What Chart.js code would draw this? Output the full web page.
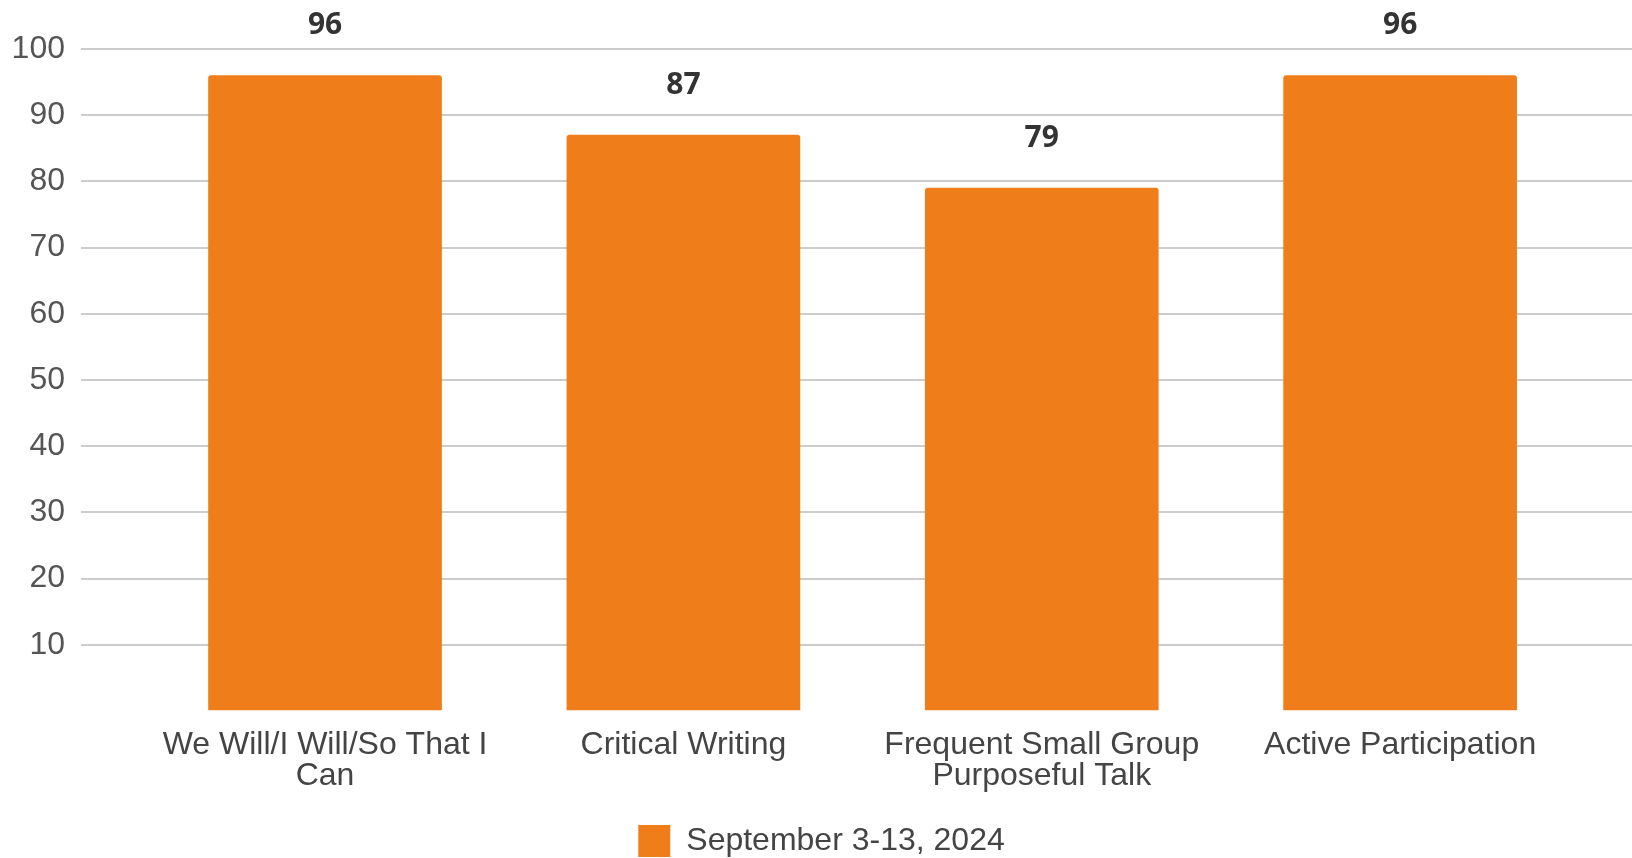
<!DOCTYPE html>
<html lang="en">
<head>
    <meta charset="UTF-8">
    <title>Walkthrough Results</title>
    <script src="https://cdn.jsdelivr.net/npm/chart.js"></script>
    <style>
        html, body {
            margin: 0;
            padding: 0;
            background: #fff;
            overflow: hidden;
        }
        .chart-container {
            width: 1632px;
            height: 858px;
        }
    </style>
</head>
<body>
<div class="chart-container">
    <canvas id="barChart"></canvas>
</div>

<script>
    // Chart data
    const categories = [
        ['We Will/I Will/So That I', 'Can'],
        'Critical Writing',
        ['Frequent Small Group', 'Purposeful Talk'],
        'Active Participation'
    ];
    const seriesName = 'September 3-13, 2024';
    const seriesValues = [96, 87, 79, 96];
    const yTicks = [0, 10, 20, 30, 40, 50, 60, 70, 80, 90, 100];

    const orange = '#ee7d1a';
    const fontFamily = 'Arial, "Liberation Sans", sans-serif';

    // value labels above each bar
    const valueLabels = {
        id: 'valueLabels',
        afterDatasetsDraw(chart) {
            const ctx = chart.ctx;
            const meta = chart.getDatasetMeta(0);
            ctx.save();
            ctx.font = 'bold 30px "Open Sans", sans-serif';
            ctx.fillStyle = '#333333';
            ctx.textAlign = 'center';
            ctx.textBaseline = 'middle';
            meta.data.forEach((bar, i) => {
                ctx.fillText(seriesValues[i], bar.x, bar.y - 50);
            });
            ctx.restore();
        }
    };

    new Chart(document.getElementById('barChart'), {
        type: 'bar',
        data: {
            datasets: [{
                label: seriesName,
                data: seriesValues.map((v, i) => ({ x: i, y: v })),
                backgroundColor: orange,
                borderRadius: 3,
                borderSkipped: 'bottom',
                barThickness: 233
            }]
        },
        options: {
            responsive: true,
            maintainAspectRatio: false,
            animation: false,
            layout: {
                // legend sits partly cut at the bottom edge, like the source
                padding: { left: 11, top: 49, right: 0, bottom: -9 }
            },
            scales: {
                x: {
                    type: 'linear',
                    offset: false,
                    min: -0.681,
                    max: 3.647,
                    grid: { display: false },
                    border: { display: false },
                    afterFit: (scale) => { scale.height += 21; },
                    ticks: {
                        stepSize: 1,
                        includeBounds: false,
                        autoSkip: false,
                        maxRotation: 0,
                        padding: 11,
                        color: '#444444',
                        font: { family: fontFamily, size: 32, lineHeight: 0.97 },
                        callback: (value) => Number.isInteger(value) && categories[value] !== undefined ? categories[value] : ''
                    }
                },
                y: {
                    min: yTicks[0],
                    max: yTicks[yTicks.length - 1],
                    afterBuildTicks: (scale) => {
                        scale.ticks = yTicks.map(v => ({ value: v }));
                    },
                    afterFit: (scale) => { scale.width = 70; },
                    border: { display: false },
                    grid: {
                        drawTicks: false,
                        lineWidth: 2,
                        color: (ctx) => ctx.tick && ctx.tick.value === 0 ? 'rgba(0,0,0,0)' : '#cccccc'
                    },
                    ticks: {
                        padding: 16,
                        color: '#555555',
                        font: { family: fontFamily, size: 32 },
                        callback: (value) => value === 0 ? '' : value
                    }
                }
            },
            plugins: {
                legend: {
                    position: 'bottom',
                    labels: {
                        boxWidth: 32,
                        boxHeight: 32,
                        padding: 1,
                        color: '#444444',
                        font: { family: fontFamily, size: 32 }
                    }
                },
                tooltip: { enabled: false }
            }
        },
        plugins: [valueLabels]
    });
</script>
</body>
</html>
